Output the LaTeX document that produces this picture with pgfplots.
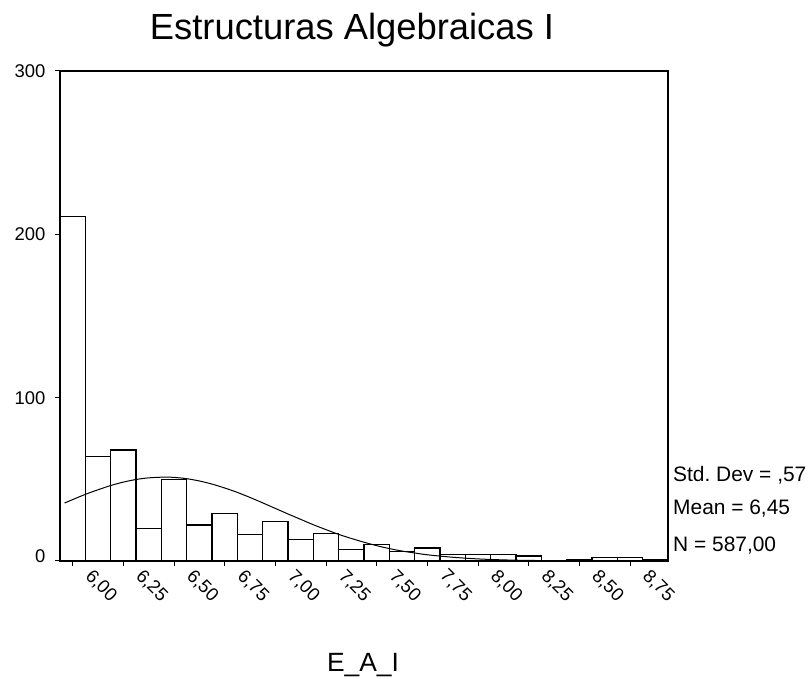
\documentclass[border=0pt]{standalone}
\usepackage{pgfplots}
\pgfplotsset{compat=1.18}
\usepackage{fontspec}
\setmainfont{Liberation Sans}
\frenchspacing

\newcommand{\tickfont}{\fontsize{18.5}{20}\selectfont}
\newcommand{\statfont}{\fontsize{21}{23}\selectfont}

\begin{document}
\begin{tikzpicture}
\begin{axis}[
    at={(60bp,118bp)}, anchor=south west,
    scale only axis,
    width=608bp, height=490bp,
    xmin=5.9375, xmax=8.9375,
    ymin=0, ymax=300,
    axis line style={line width=1.6bp},
    tick align=outside, tick pos=left,
    major tick length=5bp,
    tick style={line width=1bp, black},
    ytick={0,100,200,300},
    yticklabels={\raisebox{10bp}{0},100,200,300},
    xtick={6,6.25,6.5,6.75,7,7.25,7.5,7.75,8,8.25,8.5,8.75},
    xticklabels={{6,00},{6,25},{6,50},{6,75},{7,00},{7,25},{7,50},{7,75},{8,00},{8,25},{8,50},{8,75}},
    ticklabel style={font=\tickfont},
    y tick label style={xshift=-6bp},
    x tick label style={xshift=21bp, yshift=3bp, rotate=-45, anchor=north west},
    ]
% counts per bin (0.125 wide), left edges
\addplot[ybar interval, fill=white, draw=black, line width=1.2bp] coordinates {
 (5.9375,211) (6.0625,64) (6.1875,68) (6.3125,20) (6.4375,50) (6.5625,22)
 (6.6875,29) (6.8125,16) (6.9375,24) (7.0625,13) (7.1875,17) (7.3125,7)
 (7.4375,10) (7.5625,6) (7.6875,8) (7.8125,4) (7.9375,4) (8.0625,4)
 (8.1875,3) (8.3125,0) (8.4375,1) (8.5625,2) (8.6875,2) (8.8125,1) (8.9375,1)
};
% normal curve
\addplot[smooth, black, line width=1bp] coordinates {
 (5.96,35.5) (6.0,37.6) (6.0625,40.8) (6.125,43.6) (6.1875,46.2) (6.25,48.3)
 (6.3125,49.9) (6.375,50.9) (6.45,51.35) (6.5,51.2) (6.5625,50.4) (6.625,49.0)
 (6.6875,47.1) (6.75,44.7) (6.8125,42.0) (6.875,38.9) (6.9375,35.6) (7.0,32.2)
 (7.0625,28.8) (7.125,25.5) (7.1875,22.2) (7.25,19.2) (7.3125,16.3) (7.375,13.8)
 (7.4375,11.5) (7.5,9.4) (7.5625,7.6) (7.625,6.1) (7.6875,4.9) (7.75,3.8)
 (7.875,2.3) (8.0,1.27) (8.125,0.68) (8.25,0.35) (8.5,0.08) (8.75,0.01) (8.9375,0)
};
\end{axis}
\node[anchor=base, font=\fontsize{36.5}{40}\selectfont] at (352bp,639.7bp) {Estructuras Algebraicas I};
\node[anchor=base, font=\fontsize{26.5}{30}\selectfont] at (363bp,8bp) {E\_A\_I};
\node[anchor=base west, font=\statfont, inner sep=0pt] at (673bp,197.3bp) {Std. Dev = ,57};
\node[anchor=base west, font=\statfont, inner sep=0pt] at (673bp,164bp) {Mean = 6,45};
\node[anchor=base west, font=\statfont, inner sep=0pt] at (673bp,127bp) {N = 587,00};
\pgfresetboundingbox
\path[use as bounding box] (0,0) rectangle (812bp,679bp);
\end{tikzpicture}
\end{document}
